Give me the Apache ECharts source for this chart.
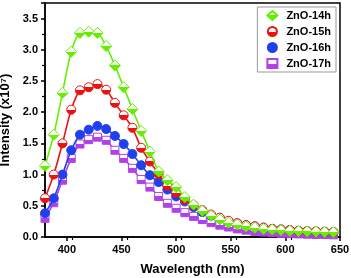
<!DOCTYPE html>
<html><head><meta charset="utf-8">
<script src="https://cdn.jsdelivr.net/npm/echarts@6/dist/echarts.min.js"></script>
<style>html,body{margin:0;padding:0;background:#fff}#c{width:351px;height:278px}</style>
</head><body><div id="c"></div>
<script>
const wavelengths = [380,388,396,404,412,420,428,436,444,452,460,468,476,484,492,500,508,516,524,532,540,548,556,564,572,580,588,596,604,612,620,628,636,644];
const zno14h = [1.14,1.64,2.31,2.97,3.27,3.29,3.27,3.06,2.75,2.40,2.05,1.70,1.37,1.05,0.91,0.80,0.64,0.52,0.42,0.34,0.28,0.23,0.20,0.17,0.15,0.13,0.12,0.11,0.10,0.095,0.09,0.085,0.08,0.075];
const zno15h = [0.62,1.00,1.50,2.04,2.35,2.40,2.45,2.36,2.15,1.95,1.75,1.43,1.21,1.01,0.82,0.71,0.60,0.51,0.43,0.36,0.31,0.26,0.22,0.19,0.17,0.15,0.13,0.12,0.11,0.10,0.095,0.09,0.085,0.08];
const zno16h = [0.38,0.62,1.00,1.39,1.64,1.72,1.78,1.73,1.62,1.49,1.33,1.15,0.99,0.88,0.76,0.65,0.57,0.48,0.40,0.34,0.30,0.25,0.22,0.19,0.17,0.15,0.13,0.12,0.11,0.10,0.09,0.085,0.08,0.075];
const zno17h = [0.30,0.55,0.91,1.26,1.49,1.56,1.60,1.55,1.39,1.26,1.10,0.92,0.80,0.65,0.54,0.46,0.39,0.33,0.28,0.23,0.19,0.16,0.13,0.11,0.09,0.08,0.07,0.06,0.055,0.05,0.045,0.04,0.04,0.035];
const seriesNames = ['ZnO-14h','ZnO-15h','ZnO-16h','ZnO-17h'];
const xTicks = [400,450,500,550,600,650];

const colors = ['#66ee00','#ee1111','#2040ee','#b041e8'];
const symbols = ['diamond','circle','circle','rect'];
const sizes = [11,9,9,8];
function half(c){
  return {type:'linear',x:0,y:0,x2:0,y2:1,colorStops:[
    {offset:0,color:'#ffffff'},{offset:0.5,color:'#ffffff'},
    {offset:0.5,color:c},{offset:1,color:c}]};
}
const all = [zno14h,zno15h,zno16h,zno17h];
const series = all.map((vals,i)=>({
  name: seriesNames[i], type:'line', smooth:0.3,
  data: wavelengths.map((w,j)=>[w,vals[j]]),
  symbol: symbols[i], symbolSize: sizes[i], showSymbol:true,
  legendIcon: symbols[i],
  lineStyle:{color:colors[i],width:1.6},
  itemStyle:{color: i===2 ? colors[i] : half(colors[i]), borderColor:colors[i], borderWidth:1},
  z: 10-i
}));
const chart = echarts.init(document.getElementById('c'),null,{renderer:'canvas'});
chart.setOption({
  animation:false,
  backgroundColor:'#fff',
  grid:{left:45,top:3,right:11,bottom:41,show:true,borderColor:'#000',borderWidth:1.5,backgroundColor:'transparent',outerBoundsMode:'none',containLabel:false},
  legend:{
    right:15,top:7,orient:'vertical',itemGap:5,itemWidth:10,itemHeight:9,
    borderColor:'#999',borderWidth:1,padding:[3,5,3,9],
    textStyle:{fontFamily:'Liberation Sans',fontWeight:'bold',fontSize:11,color:'#000',padding:[0,0,0,4]},
    data: seriesNames.map((n,i)=>({name:n,icon:symbols[i]}))
  },
  xAxis:{
    type:'value',min:380,max:650,interval:50,
    axisLine:{lineStyle:{color:'#000',width:1.5}},
    axisTick:{show:true,length:4,lineStyle:{color:'#000',width:1.5},customValues:xTicks},
    minorTick:{show:true,splitNumber:2,length:3,lineStyle:{color:'#000',width:1.2}},
    splitLine:{show:false},
    axisLabel:{fontFamily:'Liberation Sans',fontWeight:'bold',fontSize:11,color:'#000',margin:7,customValues:xTicks},
    name:'Wavelength (nm)',nameLocation:'middle',nameGap:26,
    nameTextStyle:{fontFamily:'Liberation Sans',fontWeight:'bold',fontSize:13,color:'#000'}
  },
  yAxis:{
    type:'value',min:0,max:3.75,interval:0.5,
    axisLine:{lineStyle:{color:'#000',width:1.5}},
    axisTick:{show:true,length:4,lineStyle:{color:'#000',width:1.5}},
    minorTick:{show:true,splitNumber:2,length:3,lineStyle:{color:'#000',width:1.2}},
    splitLine:{show:false},
    axisLabel:{fontFamily:'Liberation Sans',fontWeight:'bold',fontSize:11,color:'#000',margin:7,
      formatter:v=>v.toFixed(1),showMaxLabel:false},
    name:'Intensity (x10⁷)',nameLocation:'middle',nameGap:29,nameRotate:90,
    nameTextStyle:{fontFamily:'Liberation Sans',fontWeight:'bold',fontSize:13,color:'#000'}
  },
  series: series
});
</script></body></html>
